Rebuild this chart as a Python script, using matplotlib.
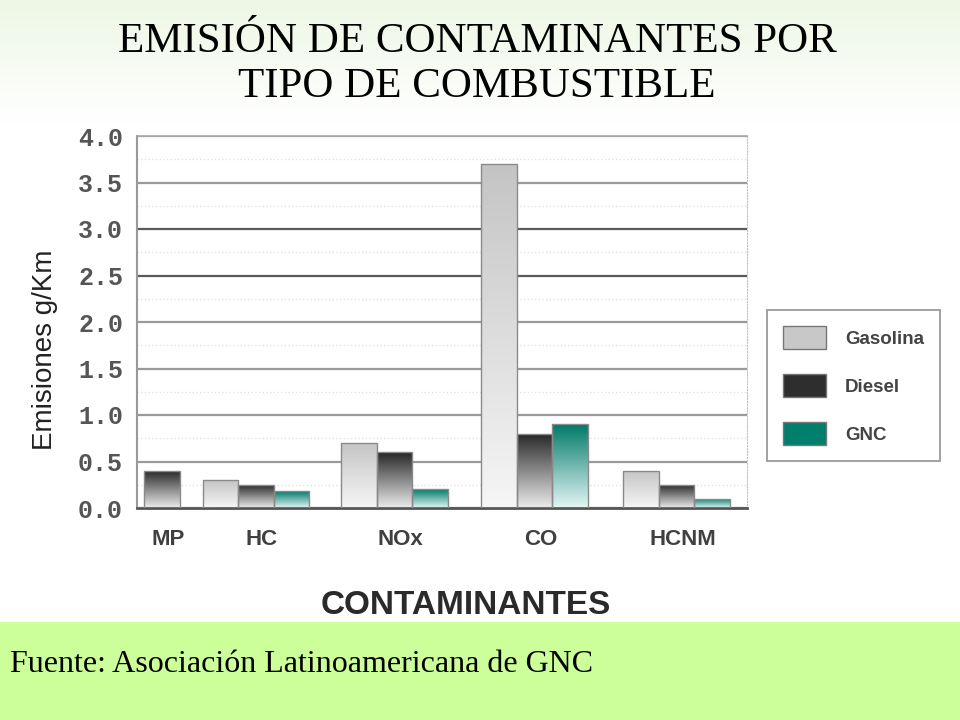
import matplotlib
matplotlib.use('Agg')
import matplotlib.pyplot as plt
import numpy as np
from matplotlib.colors import LinearSegmentedColormap
from matplotlib.patches import Patch, Rectangle

# data (g/Km)
categories = ['MP', 'HC', 'NOx', 'CO', 'HCNM']
gasolina = [0.0, 0.30, 0.70, 3.70, 0.40]
diesel = [0.40, 0.25, 0.60, 0.80, 0.25]
gnc = [0.0, 0.18, 0.20, 0.90, 0.10]
series_names = ['Gasolina', 'Diesel', 'GNC']
yticks = [0.0, 0.5, 1.0, 1.5, 2.0, 2.5, 3.0, 3.5, 4.0]

# layout: group start in bar widths (the original spacing is uneven)
group_start = [-0.8, 1.85, 5.75, 9.7, 13.7]
top_col = ['#c4c4c4', '#262626', '#007a68']
bot_col = ['#f6f6f6', '#ececec', '#e4f6f6']
legend_col = ['#c8c8c8', '#2e2e2e', '#00806c']

fig = plt.figure(figsize=(9.6, 7.2), dpi=100)

# background: pale green fading to white at top, lime band at bottom
bg = fig.add_axes([0, 0, 1, 1], zorder=-5)
grad = np.linspace(0, 1, 256).reshape(-1, 1)
bg_cmap = LinearSegmentedColormap.from_list('bg', ['#edf7e4', '#ffffff'])
bg.imshow(grad, cmap=bg_cmap, aspect='auto', extent=[0, 1, 0.83, 1.0])
bg.add_patch(Rectangle((0, 0), 1, 98 / 720, color='#ccff99'))
bg.set_xlim(0, 1)
bg.set_ylim(0, 1)
bg.axis('off')

ax = fig.add_axes([137 / 960, 212 / 720, 610 / 960, 372 / 720])
ax.set_facecolor('white')

all_series = [gasolina, diesel, gnc]
for s, vals in enumerate(all_series):
    cmap = LinearSegmentedColormap.from_list('c%d' % s, [bot_col[s], top_col[s]])
    xs = [g + s for g in group_start]
    bars = ax.bar(xs, vals, width=1.0, align='edge', color='none',
                  edgecolor='#8a8a8a', linewidth=1.0, zorder=3)
    for b, v in zip(bars, vals):
        if v <= 0:
            continue
        im = ax.imshow(grad, cmap=cmap, origin='lower', aspect='auto',
                       extent=[b.get_x(), b.get_x() + 1.0, 0, v], zorder=2)
        im.set_clip_path(b)

ax.set_xlim(0, 610 / 35.5)
ax.set_ylim(0, 4.0)

# grid
ax.set_yticks(yticks)
ax.set_yticklabels(['%.1f' % t for t in yticks], family='Liberation Mono',
                   fontsize=18, fontweight='bold', color='#555555')
ax.set_yticks(np.arange(0.25, 4.0, 0.5), minor=True)
ax.tick_params(axis='y', which='both', length=0, pad=10)
ax.yaxis.grid(True, which='major', color='#9a9a9a', linewidth=1.6, zorder=1)
ax.yaxis.grid(True, which='minor', color='#e2e2e2', linewidth=1.0,
              linestyle=':', zorder=1)
for t, gl in zip(yticks, ax.get_ygridlines()):
    if t in (2.5, 3.0):
        gl.set_color('#5a5a5a')
ax.set_axisbelow(True)

ax.set_xticks([g + 1.67 for g in group_start])
ax.set_xticklabels(categories, family='Liberation Sans', fontsize=16,
                   fontweight='bold', color='#404040')
ax.tick_params(axis='x', length=0, pad=15)

ax.spines['left'].set_color('#9a9a9a')
ax.spines['left'].set_linewidth(1.5)
ax.spines['top'].set_color('#a8a8a8')
ax.spines['top'].set_linewidth(1.2)
ax.spines['right'].set_color('#c0c0c0')
ax.spines['right'].set_linestyle(':')
ax.spines['bottom'].set_color('#555555')
ax.spines['bottom'].set_linewidth(2.0)

# legend
handles = [Patch(facecolor=legend_col[i], edgecolor='#777777') for i in range(3)]
leg = ax.legend(handles, series_names, loc='upper left',
                bbox_to_anchor=(1.033, 0.532), frameon=True, fancybox=False,
                handlelength=2.3, handleheight=1.5, labelspacing=1.35,
                borderpad=0.85, handletextpad=1.0, borderaxespad=0,
                prop={'family': 'Liberation Sans', 'size': 13.5, 'weight': 'bold'})
leg.get_frame().set_edgecolor('#8a8a8a')
leg.get_frame().set_linewidth(1.4)
for txt in leg.get_texts():
    txt.set_color('#444444')

# texts
fig.text(477 / 960, 1 - 42 / 720, 'EMISIÓN DE CONTAMINANTES POR',
         ha='center', va='center', family='Liberation Serif', fontsize=31,
         color='black')
fig.text(477 / 960, 1 - 87 / 720, 'TIPO DE COMBUSTIBLE',
         ha='center', va='center', family='Liberation Serif', fontsize=31,
         color='black')
fig.text(45 / 960, 1 - 350 / 720, 'Emisiones g/Km', rotation=90, ha='center',
         va='center', family='Liberation Sans', fontsize=20, color='#222222')
fig.text(466 / 960, 1 - 606 / 720, 'CONTAMINANTES', ha='center', va='center',
         family='Liberation Sans', fontsize=24, fontweight='bold', color='#2a2a2a')
fig.text(10 / 960, 1 - 665 / 720, 'Fuente: Asociación Latinoamericana de GNC',
         ha='left', va='center', family='Liberation Serif', fontsize=23,
         color='black')

fig.savefig('out.png', dpi=100)
